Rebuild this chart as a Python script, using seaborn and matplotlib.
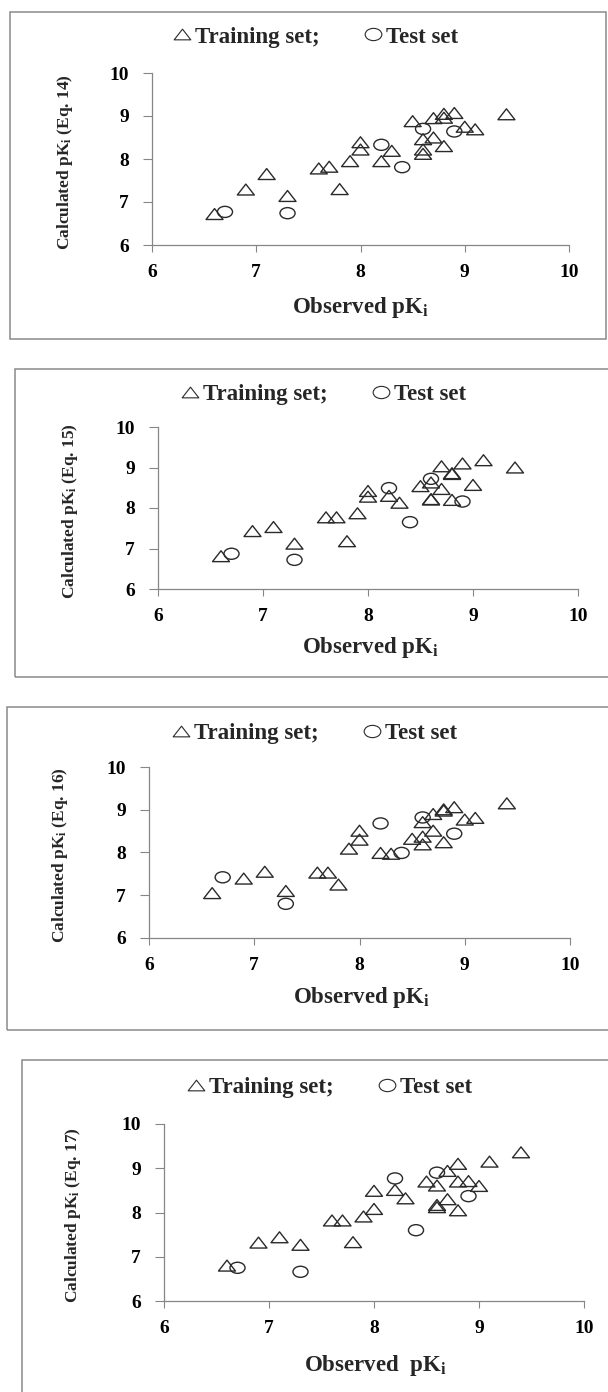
import matplotlib
matplotlib.use("Agg")
import matplotlib.pyplot as plt
from matplotlib.path import Path
from matplotlib.patches import Rectangle
from matplotlib.lines import Line2D
import seaborn as sns

# observed pKi (same compounds in every panel)
obs_train = [6.6, 6.9, 7.1, 7.3, 7.6, 7.7, 7.8, 7.9, 8.0, 8.0, 8.2, 8.3, 8.5,
             8.6, 8.6, 8.6, 8.7, 8.7, 8.8, 8.8, 8.8, 8.9, 9.0, 9.1, 9.4]
obs_test = [6.7, 7.3, 8.2, 8.4, 8.6, 8.9]

# calculated pKi, training set
calc_eq14 = [6.72, 7.29, 7.65, 7.14, 7.78, 7.82, 7.30, 7.95, 8.39, 8.22, 7.95, 8.19, 8.88,
             8.46, 8.22, 8.12, 8.95, 8.50, 9.05, 8.96, 8.30, 9.07, 8.75, 8.69, 9.04]
calc_eq15 = [6.81, 7.43, 7.53, 7.12, 7.77, 7.77, 7.18, 7.87, 8.42, 8.28, 8.30, 8.13, 8.54,
             8.63, 8.22, 8.21, 9.03, 8.47, 8.86, 8.84, 8.20, 9.10, 8.57, 9.18, 9.00]
calc_eq16 = [7.05, 7.39, 7.55, 7.10, 7.53, 7.53, 7.25, 8.09, 8.51, 8.30, 7.99, 7.97, 8.32,
             8.71, 8.37, 8.19, 8.90, 8.51, 9.01, 8.98, 8.24, 9.06, 8.77, 8.81, 9.15]
calc_eq17 = [6.80, 7.32, 7.44, 7.27, 7.82, 7.82, 7.33, 7.91, 8.49, 8.08, 8.51, 8.32, 8.70,
             8.61, 8.17, 8.12, 8.94, 8.30, 9.10, 8.70, 8.05, 8.71, 8.60, 9.15, 9.36]

# calculated pKi, test set
test_eq14 = [6.77, 6.74, 8.33, 7.81, 8.70, 8.64]
test_eq15 = [6.87, 6.72, 8.49, 7.65, 8.72, 8.16]
test_eq16 = [7.42, 6.80, 8.68, 7.99, 8.82, 8.44]
test_eq17 = [6.75, 6.66, 8.77, 7.60, 8.90, 8.37]

equations = ["14", "15", "16", "17"]
train_sets = [calc_eq14, calc_eq15, calc_eq16, calc_eq17]
test_sets = [test_eq14, test_eq15, test_eq16, test_eq17]
ticks = [6, 7, 8, 9, 10]
xlabels = [r"Observed p$\mathbf{K_i}$", r"Observed p$\mathbf{K_i}$",
           r"Observed p$\mathbf{K_i}$", r"Observed  p$\mathbf{K_i}$"]

# pixel layout of each panel (left, top, right, bottom)
boxes = [(10, 12, 606, 339), (15, 369, 612, 677), (7, 707, 612, 1030), (22, 1060, 612, 1400)]
axes_px = [(152, 73, 569, 245), (158, 427, 578, 589), (149, 767, 570, 938), (164, 1124, 584, 1301)]
legend_px = [(315, 37), (323, 394), (314, 733), (329, 1087)]
ylabel_x = [65, 70, 60, 73]
xlabel_px = [(360, 308), (370, 647), (361, 998), (375, 1366)]

sns.set_theme(style="white")
plt.rcParams.update({
    "font.family": ["Liberation Serif", "DejaVu Serif"],
    "mathtext.fontset": "custom",
    "mathtext.rm": "Liberation Serif",
    "mathtext.bf": "Liberation Serif:bold",
    "mathtext.it": "Liberation Serif:italic",
})

W, H = 608, 1392
fig = plt.figure(figsize=(W / 100, H / 100), dpi=100)
fig.patch.set_facecolor("white")

# the source image is stretched sideways, so the markers are too
tri = Path([(-0.78, -0.5), (0.78, -0.5), (0, 0.5), (-0.78, -0.5)],
           [Path.MOVETO, Path.LINETO, Path.LINETO, Path.CLOSEPOLY])
uc = Path.unit_circle()
oval = Path(uc.vertices * [1.36, 1.0], uc.codes)

edge = "#2a2a2a"
grey = "#868686"

for i in range(4):
    x0, y0, x1, y1 = boxes[i]
    fig.add_artist(Rectangle((x0 / W, 1 - y1 / H), (x1 - x0) / W, (y1 - y0) / H,
                             transform=fig.transFigure, fill=False,
                             edgecolor="#8a8a8a", linewidth=1.1))

    l, t, r, b = axes_px[i]
    ax = fig.add_axes([l / W, 1 - b / H, (r - l) / W, (b - t) / H])
    ax.patch.set_alpha(0)

    sns.scatterplot(x=obs_train, y=train_sets[i], marker=tri, s=150,
                    facecolor="none", edgecolor=edge, linewidth=1.0, ax=ax, zorder=3)
    sns.scatterplot(x=obs_test, y=test_sets[i], marker=oval, s=118,
                    facecolor="none", edgecolor=edge, linewidth=1.0, ax=ax, zorder=3)

    ax.set_xlim(6, 10)
    ax.set_ylim(6, 10)
    ax.set_xticks(ticks)
    ax.set_yticks(ticks)
    ax.set_xlabel("")
    ax.set_ylabel("")

    sns.despine(ax=ax, top=True, right=True)
    for side in ["left", "bottom"]:
        ax.spines[side].set_color(grey)
        ax.spines[side].set_linewidth(0.9)

    ax.tick_params(axis="x", direction="out", length=4.8, width=0.8, color=grey,
                   pad=9, labelsize=14, labelcolor="black", bottom=True)
    ax.tick_params(axis="y", direction="out", length=6.5, width=0.8, color=grey,
                   pad=10, labelsize=14, labelcolor="black", left=True)
    for lab in ax.get_xticklabels() + ax.get_yticklabels():
        lab.set_fontweight("bold")

    # axis titles
    fig.text(ylabel_x[i] / W, 1 - ((t + b) / 2 + 3) / H,
             r"Calculated p$\mathbf{K_i}$ (Eq. " + equations[i] + ")",
             rotation=90, ha="center", va="center", fontsize=12.5, fontweight="bold")
    fig.text(xlabel_px[i][0] / W, 1 - xlabel_px[i][1] / H, xlabels[i],
             ha="center", va="center", fontsize=16.5, fontweight="bold")

    handles = [
        Line2D([], [], ls="none", marker=tri, ms=12, mfc="none", mec=edge, mew=0.8,
               label="Training set;"),
        Line2D([], [], ls="none", marker=oval, ms=12, mfc="none", mec=edge, mew=0.8,
               label="Test set"),
    ]
    fig.legend(handles=handles, loc="center",
               bbox_to_anchor=(legend_px[i][0] / W, 1 - legend_px[i][1] / H),
               ncol=2, frameon=False, borderpad=0, handlelength=0.9,
               handletextpad=0.12, columnspacing=1.9,
               prop={"family": "Liberation Serif", "weight": "bold", "size": 16.5})

fig.savefig("out.png", dpi=100, facecolor="white")
